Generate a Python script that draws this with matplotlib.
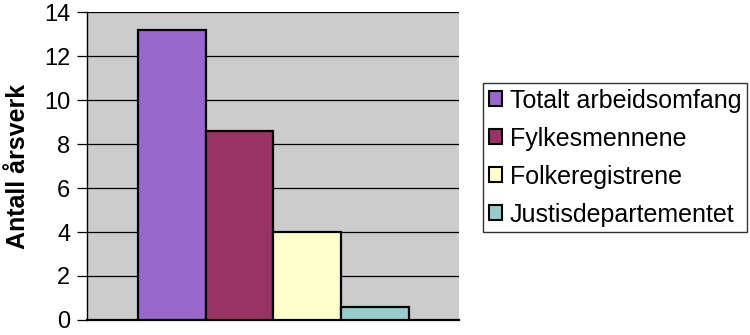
import matplotlib
matplotlib.use('Agg')
from matplotlib import pyplot as plt

plt.rcParams['font.family'] = ['Liberation Sans', 'DejaVu Sans']

labels = ['Totalt arbeidsomfang', 'Fylkesmennene', 'Folkeregistrene', 'Justisdepartementet']
values = [13.2, 8.6, 4.0, 0.6]
colors = ['#9966CC', '#993366', '#FFFFCC', '#99CCCC']
yticks = [0, 2, 4, 6, 8, 10, 12, 14]

fig = plt.figure(figsize=(7.5, 3.35), dpi=100)
ax = fig.add_axes([0.116, 0.045, 0.496, 0.918])
ax.set_facecolor('#CCCCCC')

for i, (lab, val, col) in enumerate(zip(labels, values, colors)):
    ax.bar(i, val, width=1.0, color=col, edgecolor='black', linewidth=1.6,
           label=lab, zorder=3)

ax.set_ylim(0, 14)
ax.set_xlim(-1.25, 4.24)
ax.set_yticks(yticks)
ax.yaxis.grid(True, color='black', linewidth=0.9, zorder=1)
ax.set_axisbelow(True)
ax.set_xticks([])
ax.tick_params(axis='y', length=7, width=0.9, pad=5, labelsize=17)
for s in ['top', 'right']:
    ax.spines[s].set_visible(False)
ax.spines['left'].set_linewidth(1.0)
ax.spines['bottom'].set_linewidth(1.6)
ax.set_ylabel('Antall årsverk', fontsize=18, fontweight='bold', labelpad=10)

leg = fig.legend(loc='upper left', bbox_to_anchor=(0.644, 0.752), fontsize=18,
                 frameon=True, fancybox=False, edgecolor='black',
                 handlelength=0.55, handleheight=0.55, handletextpad=0.3,
                 labelspacing=0.56, borderpad=0.22, borderaxespad=0)
leg.get_frame().set_linewidth(1.0)
for h in leg.legend_handles:
    h.set_linewidth(1.5)

plt.savefig('out.png', dpi=100)
